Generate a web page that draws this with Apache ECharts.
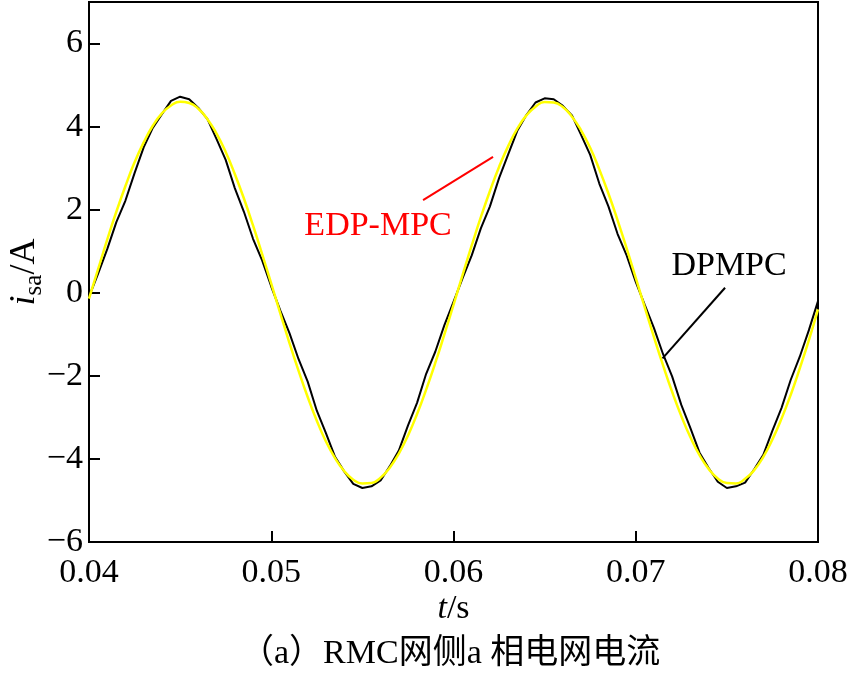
<!DOCTYPE html>
<html><head><meta charset="utf-8">
<script src="https://cdn.jsdelivr.net/npm/echarts@6/dist/echarts.min.js"></script>
<style>html,body{margin:0;padding:0;background:#fff}#c{width:850px;height:674px}</style>
</head><body><div id="c"></div>
<script>
// time in seconds
const time = [0.0400,0.0405,0.0410,0.0415,0.0420,0.0425,0.0430,0.0435,0.0440,0.0445,
0.0450,0.0455,0.0460,0.0465,0.0470,0.0475,0.0480,0.0485,0.0490,0.0495,
0.0500,0.0505,0.0510,0.0515,0.0520,0.0525,0.0530,0.0535,0.0540,0.0545,
0.0550,0.0555,0.0560,0.0565,0.0570,0.0575,0.0580,0.0585,0.0590,0.0595,
0.0600,0.0605,0.0610,0.0615,0.0620,0.0625,0.0630,0.0635,0.0640,0.0645,
0.0650,0.0655,0.0660,0.0665,0.0670,0.0675,0.0680,0.0685,0.0690,0.0695,
0.0700,0.0705,0.0710,0.0715,0.0720,0.0725,0.0730,0.0735,0.0740,0.0745,
0.0750,0.0755,0.0760,0.0765,0.0770,0.0775,0.0780,0.0785,0.0790,0.0795,0.0800];
// DPMPC current (black)
const dpmpc = [-0.10,0.46,1.05,1.70,2.22,2.88,3.50,3.97,4.30,4.62,4.72,4.66,4.45,4.18,3.70,3.20,2.52,1.95,1.30,0.78,0.15,
-0.43,-0.97,-1.60,-2.14,-2.84,-3.38,-3.95,-4.30,-4.60,-4.70,-4.66,-4.52,-4.18,-3.80,-3.20,-2.65,-1.95,-1.42,-0.78,-0.22,
0.35,0.90,1.55,2.08,2.76,3.33,3.90,4.28,4.58,4.68,4.66,4.50,4.27,3.80,3.32,2.63,2.08,1.42,0.90,0.26,
-0.30,-0.85,-1.48,-2.02,-2.70,-3.26,-3.85,-4.22,-4.55,-4.70,-4.66,-4.57,-4.25,-3.90,-3.32,-2.77,-2.10,-1.54,-0.90,-0.20];
// EDP-MPC current (yellow)
const edpmpc = [-0.14,0.57,1.28,1.95,2.57,3.14,3.62,4.02,4.32,4.51,4.60,4.57,4.43,4.18,3.83,3.39,2.86,2.27,1.62,0.93,0.22,
-0.50,-1.21,-1.88,-2.51,-3.08,-3.58,-3.98,-4.29,-4.50,-4.59,-4.58,-4.45,-4.21,-3.87,-3.44,-2.92,-2.33,-1.69,-1.00,-0.29,
0.43,1.14,1.82,2.45,3.03,3.53,3.95,4.27,4.48,4.59,4.58,4.47,4.24,3.91,3.49,2.97,2.39,1.75,1.07,0.36,
-0.36,-1.07,-1.75,-2.39,-2.97,-3.48,-3.91,-4.24,-4.47,-4.58,-4.59,-4.48,-4.27,-3.95,-3.53,-3.03,-2.46,-1.82,-1.14,-0.40];
const xTicks = [0.04,0.05,0.06,0.07,0.08];
const yTicks = [-6,-4,-2,0,2,4,6];
const annoText = [
  {text:'EDP-MPC', t:0.05586, v:1.60, color:'#ff0000'},
  {text:'DPMPC', t:0.07512, v:0.64, color:'#000000'}
];
const leaders = [
  {from:[0.05833,2.23], to:[0.06217,3.27], color:'#ff0000'},
  {from:[0.07147,-1.58], to:[0.0749,0.12], color:'#000000'}
];
const caption = '（a）RMC网侧a 相电网电流';

const FF = '"Liberation Serif","Times New Roman","Noto Sans CJK SC",serif';
const chart = echarts.init(document.getElementById('c'));
chart.setOption({
  animation:false,
  backgroundColor:'#fff',
  grid:{left:89,right:32,top:2,bottom:132,containLabel:false,outerBoundsMode:'none',
    show:true,borderColor:'#000',borderWidth:2,backgroundColor:'transparent'},
  xAxis:{type:'value',min:xTicks[0],max:xTicks[xTicks.length-1],interval:0.01,
    axisLine:{onZero:false,lineStyle:{color:'#000',width:2}},
    axisTick:{inside:true,length:11,lineStyle:{color:'#000',width:2}},
    splitLine:{show:false},
    axisLabel:{color:'#000',fontSize:34,fontFamily:FF,margin:14,formatter:v=>v.toFixed(2)},
    name:'{i|t}{n|/s}',nameLocation:'middle',nameGap:50,nameMoveOverlap:false,
    nameTextStyle:{rich:{i:{fontStyle:'italic',fontSize:34,fontFamily:FF,color:'#000'},n:{fontSize:34,fontFamily:FF,color:'#000'}}}
  },
  yAxis:{type:'value',min:yTicks[0],max:7,interval:2,
    axisLine:{onZero:false,lineStyle:{color:'#000',width:2}},
    axisTick:{inside:true,length:11,lineStyle:{color:'#000',width:2}},
    splitLine:{show:false},
    axisLabel:{color:'#000',fontSize:34,fontFamily:FF,margin:6,
      formatter:v=>(yTicks.indexOf(v)<0?'':String(v).replace('-','\u2212'))},
    name:'{i|i}{s|sa}{n|/A}',nameLocation:'middle',nameGap:42,nameRotate:90,nameMoveOverlap:false,
    nameTextStyle:{rich:{
      i:{fontStyle:'italic',fontSize:36,fontFamily:FF,color:'#000',lineHeight:44},
      s:{fontSize:25,fontFamily:FF,color:'#000',lineHeight:44,padding:[18,0,0,0]},
      n:{fontSize:36,fontFamily:FF,color:'#000',lineHeight:44}}}
  },
  series:[
    {name:'DPMPC',type:'line',data:time.map((t,i)=>[t,dpmpc[i]]),showSymbol:false,
     lineStyle:{color:'#000',width:2},z:2,
     markLine:{silent:true,symbol:'none',animation:false,label:{show:false},
       data:leaders.map(l=>[{coord:l.from,lineStyle:{color:l.color,width:2,type:'solid'}},{coord:l.to}])},
     markPoint:{silent:true,symbol:'circle',symbolSize:1,itemStyle:{color:'rgba(0,0,0,0)'},
       data:annoText.map(a=>({coord:[a.t,a.v],label:{show:true,formatter:a.text,color:a.color,fontSize:34,fontFamily:FF,position:'inside'}}))}
    },
    {name:'EDP-MPC',type:'line',data:time.map((t,i)=>[t,edpmpc[i]]),showSymbol:false,smooth:true,
     lineStyle:{color:'#ffff00',width:2.5},z:3}
  ],
  graphic:[{type:'text',left:240,top:637,style:{text:caption,fontSize:34,fontFamily:FF,fill:'#000'}}]
});
</script></body></html>
